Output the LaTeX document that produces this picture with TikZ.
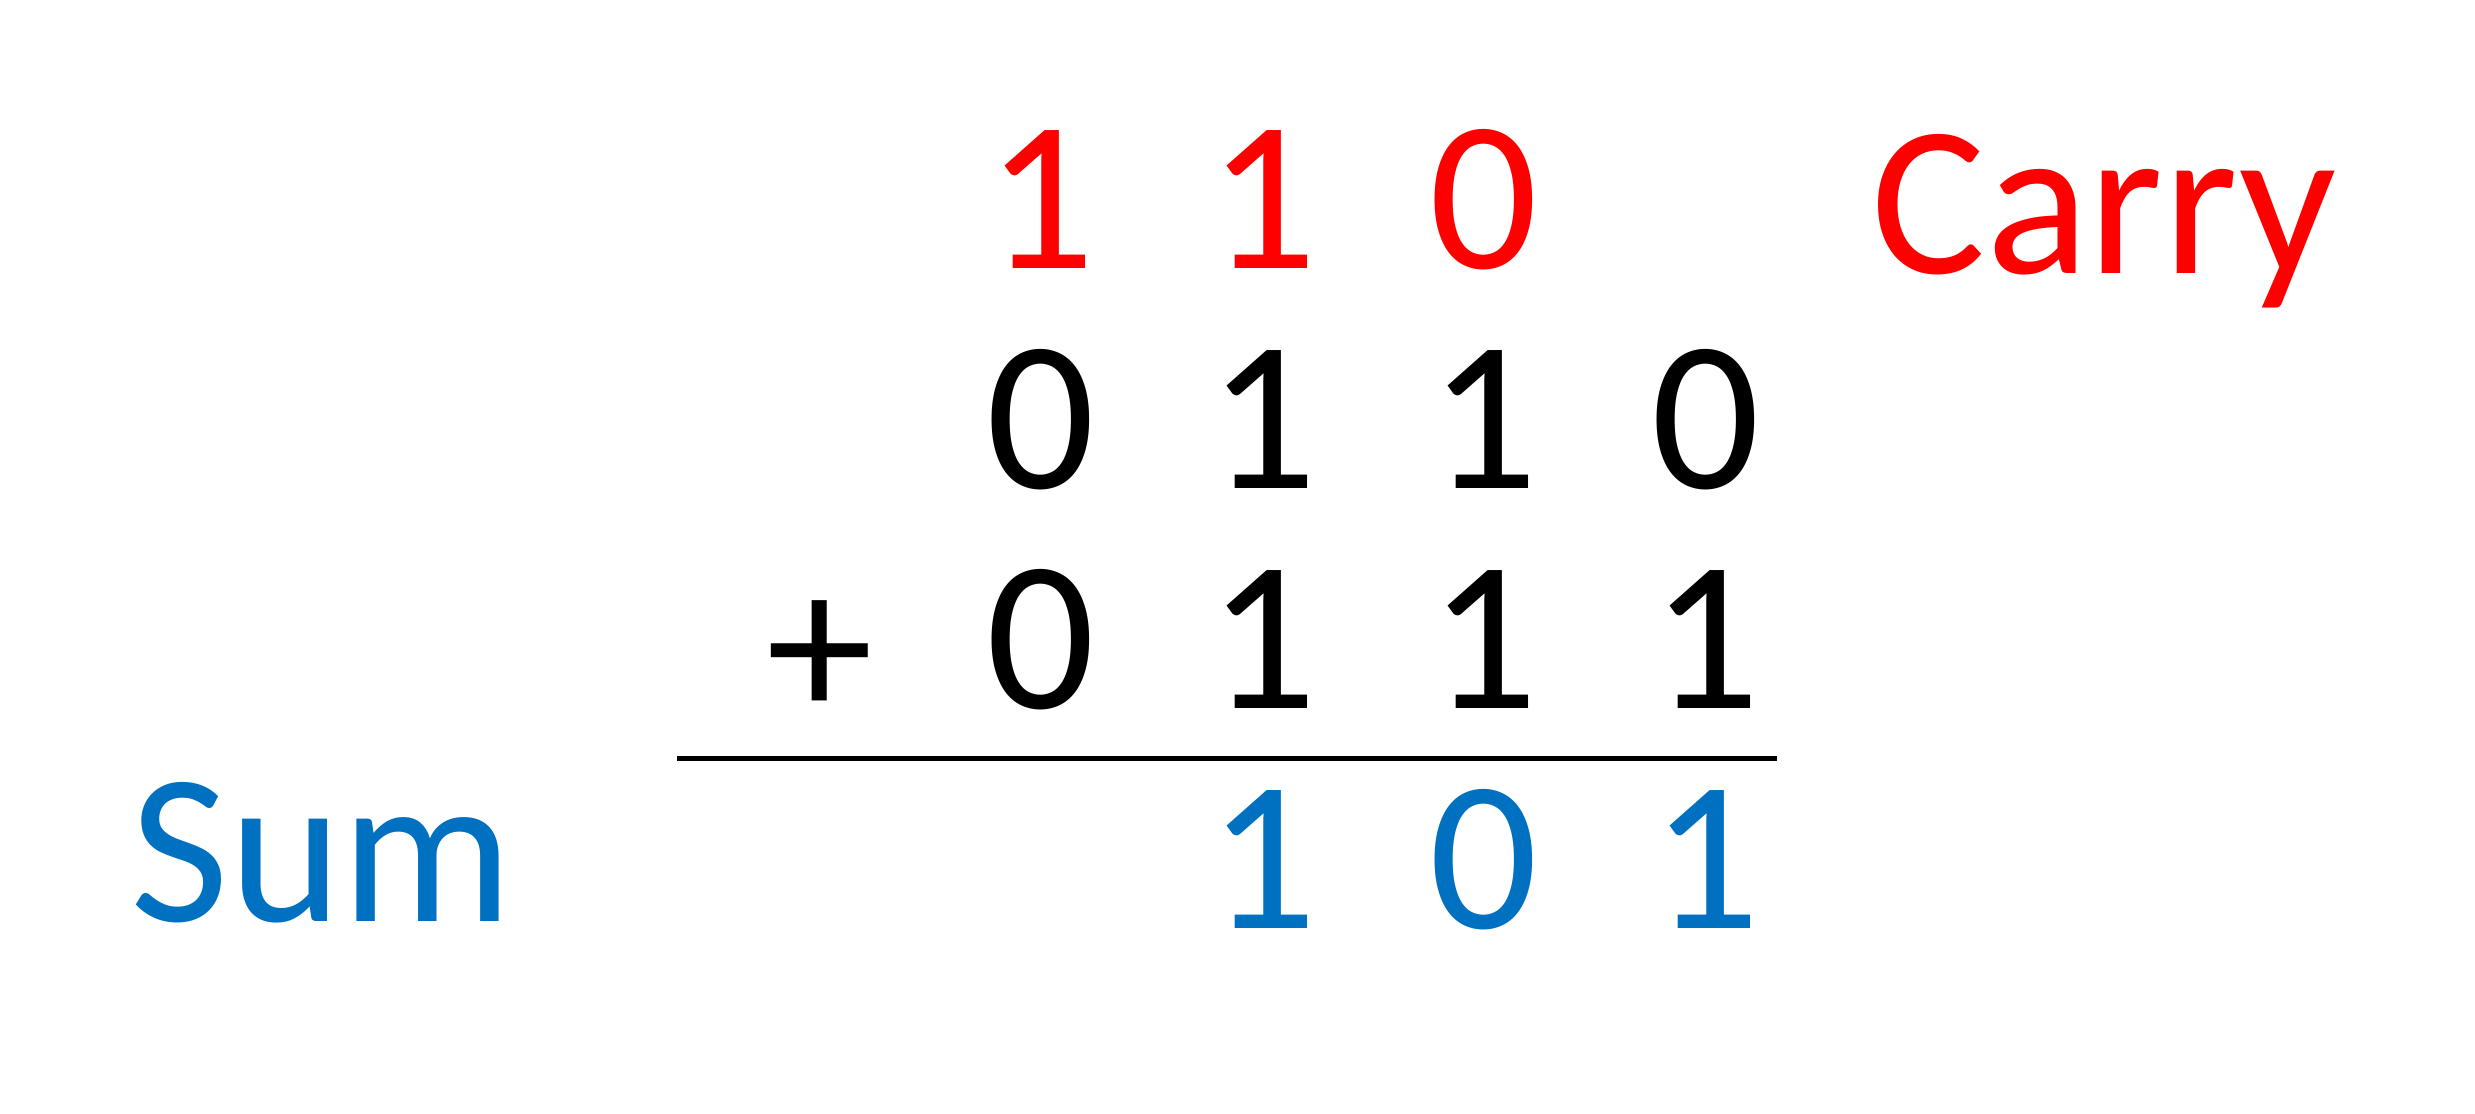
\documentclass[tikz,border=0pt]{standalone}
\usepackage{fontspec}
\setmainfont{Carlito}
\definecolor{carryred}{RGB}{255,0,0}
\definecolor{sumblue}{RGB}{0,112,192}
\tikzset{
  digit/.style={inner sep=0pt, anchor=base, font=\fontsize{61}{61}\selectfont},
  word/.style={inner sep=0pt, anchor=base west, font=\fontsize{61}{61}\selectfont}
}
\begin{document}
\begin{tikzpicture}
\useasboundingbox (0,0) rectangle (24.75,11.13);
% draw carry row
\foreach \d [count=\i] in {1,1,0}
  \node[digit, text=carryred] (c\i) at ({10.41+(\i-1)*2.215},8.45) {\d};
\node[word, text=carryred] (carry) at (18.71,8.40) {Carry};

% draw first number
\foreach \d [count=\i] in {0,1,1,0}
  \node[digit] (a\i) at ({10.41+(\i-1)*2.215},6.25) {\d};

% draw second number
\node[digit, anchor=center] (plus) at (8.20,4.53) {+};
\foreach \d [count=\i] in {0,1,1,1}
  \node[digit] (b\i) at ({10.41+(\i-1)*2.215},4.05) {\d};

% draw a horizontal line
\coordinate (lineL) at (6.77,3.545);
\coordinate (lineR) at (17.77,3.545);
\draw[line width=1.4pt] (lineL) -- (lineR);

% draw sum row
\foreach \d [count=\i from 2] in {1,0,1}
  \node[digit, text=sumblue] (s\i) at ({10.41+(\i-1)*2.215},1.85) {\d};
\node[word, text=sumblue] (sum) at (1.30,1.92) {Sum};
\end{tikzpicture}
\end{document}
